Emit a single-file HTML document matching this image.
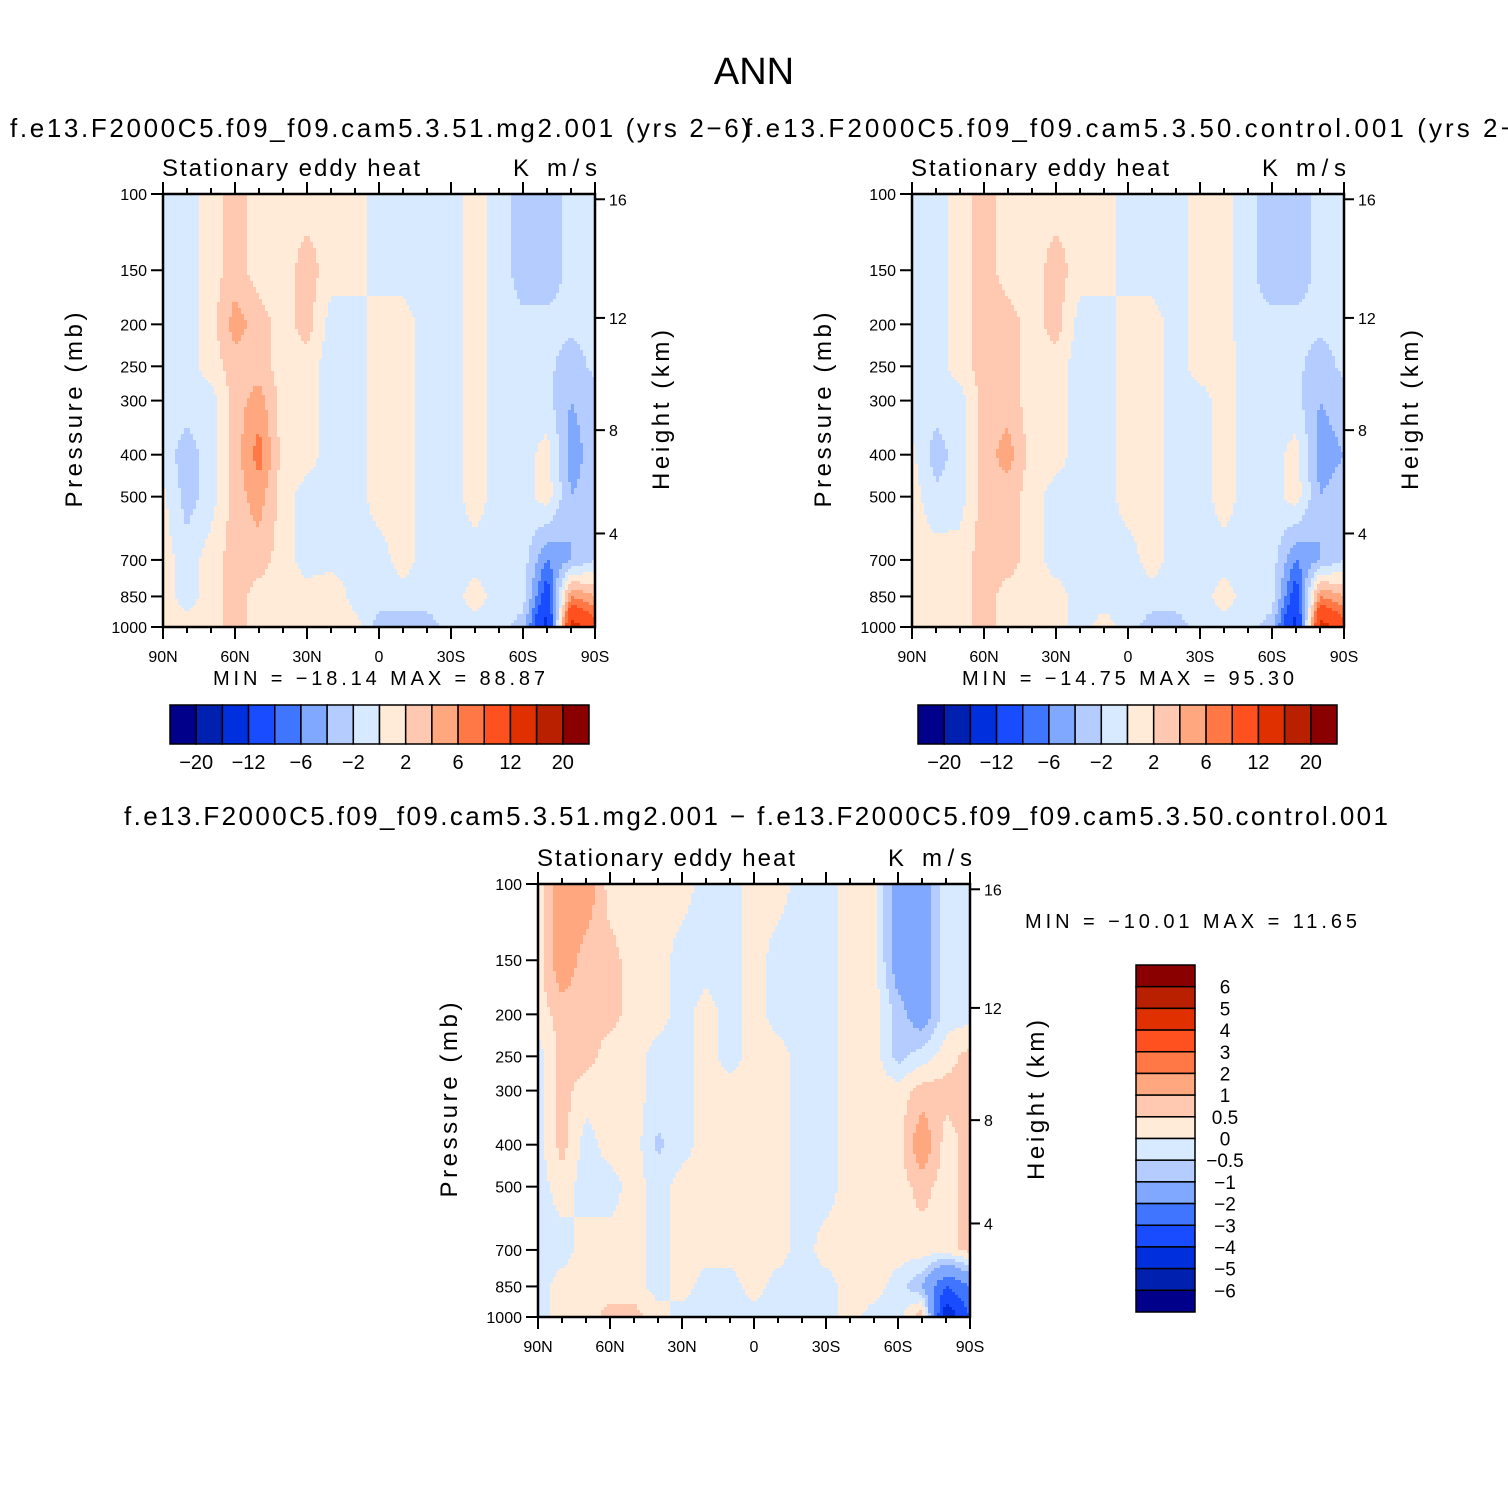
<!DOCTYPE html>
<html><head><meta charset="utf-8">
<style>
html,body{margin:0;padding:0;background:#fff;}
svg{display:block;font-family:"Liberation Sans",sans-serif;}
</style></head>
<body>
<svg id="root" width="1508" height="1508" viewBox="0 0 1508 1508" xmlns="http://www.w3.org/2000/svg">
<rect width="1508" height="1508" fill="#fff"/>
<text x="754" y="84" text-anchor="middle" font-size="38">ANN</text>
</svg>
<script>
// ---------- data ----------
const lats = [90,80,70,60,50,40,30,20,10,0,-10,-20,-30,-40,-50,-60,-70,-80,-90];
const pressures = [100,150,200,250,300,400,500,700,850,1000];
// rows = pressure levels, columns = latitudes (90N -> 90S)
const field1 = [
 [-1,-1,1,3,1,1,1,1,1,-1,-1,-1,-1,1,-1,-3,-3,-1.5,-1.5],
 [-1,-1,1,3,1,1,3,1,1,-1,-1,-1,-1,1,-1,-3,-3,-1.5,-1.5],
 [-1,-1,1,5,3,1,3,-1,-1,1,1,-1,-1,1,-1,-1.5,-1.5,-1.5,-1.5],
 [-1,-1,1,3,3,1,1,-1,-1,1,1,-1,-1,1,-1,-1.5,-1.5,-3,-1.5],
 [-1,-1,-1,3,5,1,1,-1,-1,1,1,-1,-1,1,-1,-1.5,-1.5,-4,-3],
 [-1,-3,-1,3,7,1,1,-1,-1,1,1,-1,-1,1,-1,-1,1,-5,-3],
 [0.5,-3,-1,3,5,1,-1,-1,-1,1,1,-1,-1,1,-1,-1,1,-4,-3],
 [1,-1,1,3,3,1,-1,-1,-1,-1,1,-1,-1,-1,-1,-1,-6,-4,-2],
 [1,-1,1,3,1,1,1,2,-1,-1,-1,-1,-1,1,-1,-1,-10,6,4],
 [1,1,1,3,1,1,1,2,1,-3,-3,-3,-1,-1,-1,-3,-14,14,10]
];
const field2 = [
 [-1,-1,1,3,1,1,1,1,1,-1,-1,-1,1,1,-1.5,-3,-3,-1.5,-1.5],
 [-1,-1,1,3,1,1,3,1,1,-1,-1,-1,1,1,-1.5,-3,-3,-1.5,-1.5],
 [-1,-1,1,3,3,1,3,-1,-1,1,1,-1,1,1,-1.5,-1.5,-1.5,-1.5,-1.5],
 [-1,-1,1,3,3,1,1,-1,-1,1,1,-1,1,1,-1,-1.5,-1.5,-3,-1.5],
 [-1,-1,-1,3,3,1,1,-1,-1,1,1,-1,-1,1,-1,-1.5,-1.5,-4,-3],
 [0.5,-3,-1,3,5,1,1,-1,-1,1,1,-1,-1,1,-1,-1,1,-5,-4],
 [1,-1.5,-1,3,3,1,-1,-1,-1,1,1,-1,-1,1,-1,-1,1,-4,-3],
 [1,1,1,3,3,1,-1,-1,-1,-1,1,-1,-1,-1,-1,-1,-6,-4,-2],
 [1,1,1,3,1,1,1,-1,-1,-1,-1,-1,-1,1,-1,-1,-10,6,4],
 [1,1,1,3,1,1,1,-1,1,-1,-3,-3,-1,-1,-1,-3,-14,14,10]
];
const field3 = [
 [0.25,1.5,1.5,0.25,0.25,0.25,0.25,-0.25,-0.25,0.25,0.25,-0.25,-0.25,0.25,0.25,-1.5,-1.5,-0.25,-0.25],
 [0.25,1.5,0.7,0.7,0.25,0.25,-0.25,-0.25,-0.25,0.25,-0.25,-0.25,-0.25,0.25,0.25,-1.5,-1.5,-0.25,-0.25],
 [0.25,0.7,0.7,0.7,0.25,0.25,-0.25,0.25,-0.25,0.25,-0.25,-0.25,-0.25,0.25,0.25,-0.7,-1.5,-0.25,-0.25],
 [-0.25,0.7,0.7,0.25,0.25,-0.25,-0.25,0.25,-0.25,0.25,0.25,-0.25,-0.25,0.25,0.25,-0.7,-0.25,0.25,0.7],
 [-0.25,0.7,0.25,0.25,0.25,-0.25,-0.25,0.25,0.25,0.25,0.25,-0.25,-0.25,0.25,0.25,0.25,0.7,0.7,0.7],
 [-0.25,0.7,-0.25,0.25,0.25,-0.6,-0.25,0.25,0.25,0.25,0.25,-0.25,-0.25,0.25,0.25,0.25,1.5,0.25,0.7],
 [-0.25,0.25,-0.25,-0.25,0.25,-0.25,0.25,0.25,0.25,0.25,0.25,-0.25,-0.25,0.25,0.25,0.25,0.7,0.25,0.7],
 [-0.25,-0.25,0.25,0.25,0.25,-0.25,0.25,0.25,0.25,0.25,0.25,-0.25,0.25,0.25,0.25,0.25,0.25,0.25,0.7],
 [-0.25,0.25,0.25,0.25,0.25,-0.25,0.25,-0.25,-0.25,0.25,-0.25,-0.25,-0.25,0.25,0.25,-0.25,-1,-3,-2],
 [-0.25,0.25,0.25,0.7,0.7,0.25,-0.25,-0.25,-0.25,-0.25,-0.25,-0.25,-0.25,0.25,-0.25,-0.25,1,-5,-3]
];
const levels1 = [-20,-16,-12,-8,-6,-4,-2,0,2,4,6,8,12,16,20];
const levels3 = [-6,-5,-4,-3,-2,-1,-0.5,0,0.5,1,2,3,4,5,6];
const colors = ["#00008a","#0020b0","#0030dd","#1a4cff","#4075ff","#80a8ff","#b4ccff","#d8eaff","#ffebd8","#ffc8b0","#ffa880","#ff7845","#ff5020","#e03000","#b82000","#8a0000"];
const barLabels1 = ["−20","−12","−6","−2","2","6","12","20"];
const barLabels3 = ["6","5","4","3","2","1","0.5","0","−0.5","−1","−2","−3","−4","−5","−6"];
const presTicks = [100,150,200,250,300,400,500,700,850,1000];
const heightTicks = [4,8,12,16];
const latTicks = [90,60,30,0,-30,-60,-90];
const latLabels = ["90N","60N","30N","0","30S","60S","90S"];

// ---------- helpers ----------
const NS = "http://www.w3.org/2000/svg";
const root = document.getElementById('root');
function mk(tag, attrs, parent, txt){
  const e = document.createElementNS(NS, tag);
  for (const k in attrs) e.setAttribute(k, attrs[k]);
  if (txt !== undefined) e.textContent = txt;
  (parent||root).appendChild(e);
  return e;
}
const W = 432, H = 433;
function colorFor(v, levels){
  let i = 0;
  while (i < levels.length && v >= levels[i]) i++;
  return colors[i];
}
function heightToP(h){
  if (h <= 11) return 1000 * Math.pow(1 - h / 44.3, 5.256);
  return 226.3 * Math.exp(-(h - 11) / 6.34);
}
function sample(field, lat, p){
  let fx = (90 - lat) / 10; if (fx < 0) fx = 0; if (fx > 18) fx = 18;
  const i0 = Math.min(17, Math.floor(fx)), tx = fx - i0;
  const lp = Math.log10(p);
  let j0 = 0;
  while (j0 < pressures.length - 2 && Math.log10(pressures[j0+1]) < lp) j0++;
  const a = Math.log10(pressures[j0]), b = Math.log10(pressures[j0+1]);
  let ty = (lp - a) / (b - a); ty = Math.max(0, Math.min(1, ty));
  const v00 = field[j0][i0], v01 = field[j0][i0+1], v10 = field[j0+1][i0], v11 = field[j0+1][i0+1];
  return (v00*(1-tx)+v01*tx)*(1-ty) + (v10*(1-tx)+v11*tx)*ty;
}

function panel(name, x0, y0, field, levels, subtitle, subX, subLen, subY, statsText, statsX, statsY, statsLen){
  const g = mk('g', {}, root);
  
  
  const xs = lat => x0 + (90 - lat) / 180 * W;
  const ys = p => y0 + (Math.log10(p) - 2) * H;
  const step = 3;
  const fill = mk('g', {}, g);
  
  
  for (let py = 0; py < H; py += step){
    const p = Math.pow(10, 2 + (py + step/2) / H);
    let runStart = 0, runCol = null;
    for (let px = 0; px <= W; px += step){
      let col = null;
      if (px < W){
        const lat = 90 - (px + step/2) / W * 180;
        col = colorFor(sample(field, lat, p), levels);
      }
      if (col !== runCol){
        if (runCol !== null){
          const r = mk('rect', {x: x0 + runStart, y: y0 + py, width: Math.min(px, W) - runStart + 0.5, height: Math.min(step, H - py) + 0.5, fill: runCol}, fill);
          
          
        }
        runStart = px; runCol = col;
      }
    }
  }
  const fr = mk('rect', {x: x0, y: y0, width: W, height: H, fill: 'none', stroke: '#000', 'stroke-width': 2.5}, g);
  
  
  presTicks.forEach(p => {
    const y = ys(p);
    mk('line', {x1: x0 - 12, x2: x0, y1: y, y2: y, stroke: '#000', 'stroke-width': 2}, g);
    const t = mk('text', {x: x0 - 16, y: y + 6, 'text-anchor': 'end', 'font-size': 16}, g, String(p));
    
    
  });
  heightTicks.forEach(h => {
    const y = ys(heightToP(h));
    mk('line', {x1: x0 + W, x2: x0 + W + 10, y1: y, y2: y, stroke: '#000', 'stroke-width': 2}, g);
    const t = mk('text', {x: x0 + W + 14, y: y + 6, 'font-size': 16}, g, String(h));
    
    
  });
  for (let lat = 90; lat >= -90; lat -= 10){
    const x = xs(lat), major = lat % 30 === 0;
    const len = major ? 12 : 6;
    mk('line', {x1: x, x2: x, y1: y0 - len, y2: y0, stroke: '#000', 'stroke-width': 2}, g);
    mk('line', {x1: x, x2: x, y1: y0 + H, y2: y0 + H + len, stroke: '#000', 'stroke-width': 2}, g);
  }
  latTicks.forEach((lat, i) => {
    const t = mk('text', {x: xs(lat), y: y0 + H + 35, 'text-anchor': 'middle', 'font-size': 16}, g, latLabels[i]);
    
    
  });
  const yt = mk('text', {transform: `translate(${x0 - 81},${y0 + 216}) rotate(-90)`, 'text-anchor': 'middle', 'font-size': 24, textLength: 195}, g, 'Pressure (mb)');
  
  
  const ht = mk('text', {transform: `translate(${x0 + W + 74},${y0 + 216}) rotate(-90)`, 'text-anchor': 'middle', 'font-size': 24, textLength: 160}, g, 'Height (km)');
  
  
  const lt = mk('text', {x: x0 - 1, y: y0 - 18, 'font-size': 24, textLength: 258}, g, 'Stationary eddy heat');
  
  
  const rt = mk('text', {x: x0 + W + 2, y: y0 - 18, 'text-anchor': 'end', 'font-size': 24, textLength: 84}, g, 'K m/s');
  
  
  const st = mk('text', {x: subX, y: subY, 'font-size': 26, textLength: subLen}, g, subtitle);
  
  
  const mm = mk('text', {x: statsX, y: statsY, 'font-size': 20, textLength: statsLen, 'xml:space': 'preserve'}, g, statsText);
  
  
}

panel('panel-test', 163, 194, field1, levels1, 'f.e13.F2000C5.f09_f09.cam5.3.51.mg2.001 (yrs 2−6)', 10, 740, 137, 'MIN = −18.14   MAX =  88.87', 213, 685, 332);
panel('panel-control', 912, 194, field2, levels1, 'f.e13.F2000C5.f09_f09.cam5.3.50.control.001 (yrs 2−6)', 745, 800, 137, 'MIN = −14.75   MAX =  95.30', 962, 685, 332);
panel('panel-difference', 538, 884, field3, levels3, 'f.e13.F2000C5.f09_f09.cam5.3.51.mg2.001 − f.e13.F2000C5.f09_f09.cam5.3.50.control.001', 124, 1264, 825, 'MIN = −10.01   MAX =  11.65', 1025, 928, 332);

function hbar(name, x0){
  const g = mk('g', {}, root);
  
  
  const bw = (589 - 170) / colors.length;
  colors.forEach((c, i) => {
    const r = mk('rect', {x: x0 + i*bw, y: 705, width: bw, height: 39, fill: c, stroke: '#000', 'stroke-width': 1.5}, g);
    
    
  });
  barLabels1.forEach((l, k) => {
    const t = mk('text', {x: x0 + (2*k+1)*bw, y: 769, 'text-anchor': 'middle', 'font-size': 20}, g, l);
    
    
  });
}
hbar('colorbar-test', 170);
hbar('colorbar-control', 918);

(function(){
  const g = mk('g', {}, root);
  
  
  const y0 = 965, bh = (1312 - 965) / colors.length;
  colors.slice().reverse().forEach((c, i) => {
    const r = mk('rect', {x: 1136, y: y0 + i*bh, width: 59, height: bh, fill: c, stroke: '#000', 'stroke-width': 1.5}, g);
    
    
  });
  barLabels3.forEach((l, k) => {
    const t = mk('text', {x: 1225, y: y0 + (k+1)*bh + 7, 'text-anchor': 'middle', 'font-size': 19}, g, l);
    
    
  });
})();
</script>
</body></html>
